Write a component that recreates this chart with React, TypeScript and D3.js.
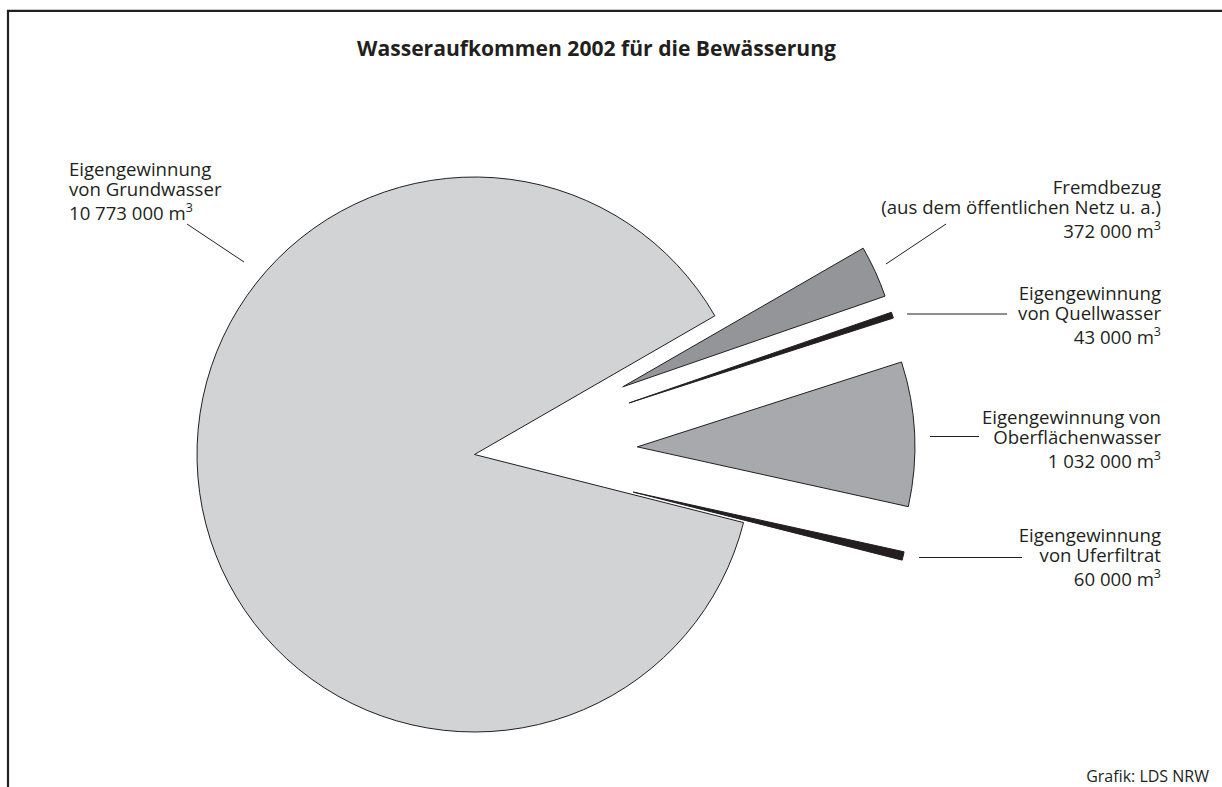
import React from "react";
import * as d3 from "d3";

const categories = [
  "Eigengewinnung von Grundwasser",
  "Fremdbezug (aus dem öffentlichen Netz u. a.)",
  "Eigengewinnung von Quellwasser",
  "Eigengewinnung von Oberflächenwasser",
  "Eigengewinnung von Uferfiltrat",
];
const values = [10773000, 372000, 43000, 1032000, 60000];
const labelLines = [
  ["Eigengewinnung", "von Grundwasser"],
  ["Fremdbezug", "(aus dem öffentlichen Netz u. a.)"],
  ["Eigengewinnung", "von Quellwasser"],
  ["Eigengewinnung von", "Oberflächenwasser"],
  ["Eigengewinnung", "von Uferfiltrat"],
];
const fills = ["#d1d3d4", "#939598", "#231f20", "#a7a9ac", "#231f20"];
const exploded = [false, true, true, true, true];

const title = "Wasseraufkommen 2002 für die Bewässerung";
const source = "Grafik: LDS NRW";

// layout
const W = 1222;
const H = 787;
const cx = 474.5;
const cy = 454.5;
const R = 277.5;
const explodeOffset = 163;
const startDeg = 104.2;
const ink = "#231f20";
const font = "'Open Sans', 'Noto Sans', sans-serif";

const labelPos = [
  { x: 69, y: 176, anchor: "start" },
  { x: 1161, y: 194, anchor: "end" },
  { x: 1161, y: 299.5, anchor: "end" },
  { x: 1161, y: 423.5, anchor: "end" },
  { x: 1161, y: 541.5, anchor: "end" },
];
const leaders = [
  [187, 224, 244, 262],
  [886, 264, 946, 224],
  [907, 314, 1007, 314],
  [930, 436.5, 979, 436.5],
  [919, 557.5, 1022, 557.5],
];

const locale = d3.formatLocale({
  decimal: ",",
  thousands: " ",
  grouping: [3],
  currency: ["", ""],
});
const fmt = locale.format(",d");

export default function App() {
  const pie = d3
    .pie<number>()
    .sort(null)
    .value((d) => d)
    .startAngle((startDeg * Math.PI) / 180)
    .endAngle((startDeg * Math.PI) / 180 + 2 * Math.PI);
  const arcs = pie(values);
  const arc = d3.arc<d3.PieArcDatum<number>>().innerRadius(0).outerRadius(R);

  return (
    <svg
      width={W}
      height={H}
      style={{ position: "absolute", left: 0, top: 0, background: "#fff" }}
    >
      <rect x={0} y={0} width={W} height={H} fill="#fff" />
      <path
        d={`M8,${H + 5} L8,10.8 L${W + 5},10.8`}
        fill="none"
        stroke={ink}
        strokeWidth={2.2}
      />
      <text
        x={596.5}
        y={56}
        textAnchor="middle"
        fontFamily={font}
        fontWeight={700}
        fontSize={21.1}
        fill={ink}
      >
        {title}
      </text>
      <g transform={`translate(${cx},${cy})`}>
        {arcs.map((a, i) => {
          const mid = (a.startAngle + a.endAngle) / 2;
          const off = exploded[i] ? explodeOffset : 0;
          const tx = off * Math.sin(mid);
          const ty = -off * Math.cos(mid);
          return (
            <path
              key={categories[i]}
              d={arc(a) || ""}
              transform={`translate(${tx},${ty})`}
              fill={fills[i]}
              stroke={ink}
              strokeWidth={1}
              strokeLinejoin="miter"
            />
          );
        })}
      </g>
      {leaders.map((l, i) => (
        <line
          key={"l" + i}
          x1={l[0]}
          y1={l[1]}
          x2={l[2]}
          y2={l[3]}
          stroke={ink}
          strokeWidth={1}
        />
      ))}
      {labelLines.map((lines, i) => {
        const p = labelPos[i];
        return (
          <text
            key={"t" + i}
            fontFamily={font}
            fontSize={18.6}
            fill={ink}
            textAnchor={p.anchor}
            x={p.x}
            y={p.y}
          >
            {lines.map((ln, j) => (
              <tspan key={j} x={p.x} y={p.y + j * 20}>
                {ln}
              </tspan>
            ))}
            <tspan x={p.x} y={p.y + 44}>
              {fmt(values[i]) + " m"}
            </tspan>
            <tspan fontSize={12.5} dy={-8}>
              3
            </tspan>
          </text>
        );
      })}
      <text
        x={1209}
        y={781.5}
        textAnchor="end"
        fontFamily={font}
        fontSize={16}
        fill={ink}
      >
        {source}
      </text>
    </svg>
  );
}
